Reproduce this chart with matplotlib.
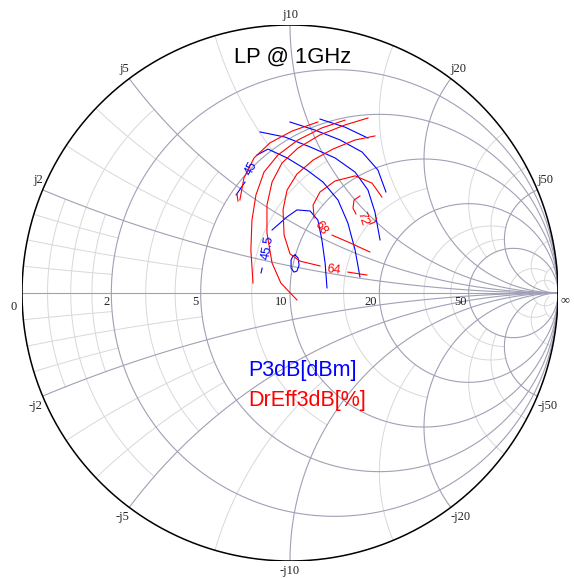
import numpy as np
import matplotlib
matplotlib.use("Agg")
import matplotlib.pyplot as plt

# ── chart geometry (pixels of the 574x578 picture) ──────────────
W, H = 574, 578
CX, CY, RAD = 290, 293, 268

# ── grid values, normalised to Z0 = 10 ohm ──────────────────────
major_vals = [0.2, 0.5, 1.0, 2.0, 5.0]
minor_vals = [0.05, 0.1, 0.15, 0.3, 0.4, 0.75, 1.5, 3.0, 4.0, 10.0, 20.0]
minor_lims = [0.2, 0.5, 0.2, 0.5, 0.5, 1.0, 2.0, 5.0, 5.0, 20.0, 50.0]
real_labels = ["2", "5", "10", "20", "50"]
imag_labels = ["j2", "j5", "j10", "j20", "j50"]

nan = np.nan

# ── P3dB contours [dBm], reflection coefficient (re, im) ────────
p3db_re = [
    [0.019, 0.030, 0.034, 0.026, 0.015, 0.004, 0.004, 0.011, 0.019],          # 46
    [-0.108, -0.104, nan, -0.067, -0.011, 0.026, 0.075, 0.104, 0.119,
     0.131, 0.138],                                                           # 45.5
    [-0.201, -0.168, nan, -0.123, -0.082, -0.011, 0.063, 0.123, 0.179,
     0.216, 0.243, 0.261],                                                    # 45
    [-0.112, -0.019, 0.075, 0.168, 0.243, 0.291, 0.317, 0.336],               # 44.5
    [0.000, 0.093, 0.187, 0.269, 0.328, 0.358],                               # 44
    [0.112, 0.205, 0.291],                                                    # 43.5
]
p3db_im = [
    [0.142, 0.131, 0.104, 0.082, 0.078, 0.093, 0.123, 0.138, 0.142],
    [0.075, 0.093, nan, 0.235, 0.284, 0.310, 0.306, 0.272, 0.198,
     0.112, 0.019],
    [0.366, 0.414, nan, 0.515, 0.537, 0.504, 0.459, 0.414, 0.347,
     0.261, 0.160, 0.060],
    [0.601, 0.582, 0.545, 0.504, 0.451, 0.384, 0.302, 0.198],
    [0.638, 0.608, 0.571, 0.526, 0.459, 0.377],
    [0.649, 0.619, 0.578],
]
p3db_labels = ["45", "45.5"]
p3db_lab_re = [-0.146, -0.082]
p3db_lab_im = [0.463, 0.168]
p3db_lab_rot = [62, 80]

# ── DrEff3dB contours [%] ───────────────────────────────────────
eff_re = [
    [0.261, 0.239, 0.235, 0.246, nan, 0.298, 0.317, 0.324],                   # 72
    [0.298, 0.224, 0.157, nan, 0.090, 0.086, 0.112, 0.168, 0.243, 0.306,
     0.343],                                                                  # 68
    [0.287, 0.216, nan, 0.112, 0.037, 0.000, -0.022, -0.026, -0.011, 0.026,
     0.086, 0.160, 0.243, 0.317],                                             # 64
    [0.026, -0.034, -0.067, -0.086, -0.086, -0.067, -0.030, 0.030, 0.112,
     0.205, 0.291],                                                           # 60
    [-0.138, -0.146, -0.142, -0.127, -0.097, -0.045, 0.030, 0.119, 0.205],    # 56
    [-0.187, -0.172, -0.134, -0.075, 0.007, 0.104],                           # 52
    [-0.198, -0.194],                                                         # 48
]
eff_im = [
    [0.362, 0.347, 0.317, 0.295, nan, 0.257, 0.265, 0.280],
    [0.153, 0.187, 0.216, nan, 0.280, 0.328, 0.377, 0.418, 0.437, 0.410,
     0.358],
    [0.067, 0.078, nan, 0.101, 0.119, 0.146, 0.216, 0.310, 0.384, 0.444,
     0.496, 0.537, 0.571, 0.586],
    [-0.026, 0.037, 0.112, 0.224, 0.328, 0.414, 0.485, 0.541, 0.590,
     0.627, 0.653],
    [0.037, 0.160, 0.272, 0.366, 0.451, 0.515, 0.571, 0.616, 0.645],
    [0.347, 0.429, 0.504, 0.560, 0.604, 0.638],
    [0.369, 0.343],
]
eff_labels = ["72", "68", "64"]
eff_lab_re = [0.269, 0.116, 0.164]
eff_lab_im = [0.276, 0.243, 0.086]
eff_lab_rot = [-72, -55, -8]


def gamma(z):
    return (z - 1) / (z + 1)


def r_curve(r, lim):
    t = np.linspace(-np.arctan(lim), np.arctan(lim), 400)
    g = gamma(r + 1j * np.tan(t))
    return g.real, g.imag


def x_curve(x, lim):
    t = np.linspace(0, np.arctan(lim), 400)
    g = gamma(np.tan(t) + 1j * x)
    return g.real, g.imag


fig = plt.figure(figsize=(W / 100, H / 100), dpi=100)
ax = fig.add_axes([(CX - RAD) / W, (H - CY - RAD) / H, 2 * RAD / W, 2 * RAD / H])
ax.set_xlim(-1, 1)
ax.set_ylim(-1, 1)
ax.axis("off")

minor_c, major_c = "#d8d8d8", "#a0a0b6"

# ── Smith grid ────────────────────────────────────────────────────
for v, lim in zip(minor_vals, minor_lims):
    gx, gy = r_curve(v, lim)
    ax.plot(gx, gy, color=minor_c, lw=0.7, zorder=1)
    for s in (1, -1):
        gx, gy = x_curve(s * v, lim)
        ax.plot(gx, gy, color=minor_c, lw=0.7, zorder=1)

for v in major_vals:
    gx, gy = r_curve(v, 1e6)
    ax.plot(gx, gy, color=major_c, lw=0.8, zorder=2)
    for s in (1, -1):
        gx, gy = x_curve(s * v, 1e6)
        ax.plot(gx, gy, color=major_c, lw=0.8, zorder=2)
ax.plot([-1, 1], [0, 0], color=major_c, lw=0.8, zorder=2)

t = np.linspace(0, 2 * np.pi, 600)
ax.plot(np.cos(t), np.sin(t), color="black", lw=1.1, zorder=3)

# axis labels
lab = dict(family="Liberation Serif", fontsize=9, color="#222222")
for v, s in zip(major_vals, real_labels):
    ax.text(gamma(v) - 0.008, -0.012, s, ha="right", va="top", **lab)
ax.text(-1.02, -0.03, "0", ha="right", va="top", **lab)
ax.text(1.01, -0.005, "∞", ha="left", va="top", **lab)
for v, s in zip(major_vals, imag_labels):
    g = gamma(1j * v)
    for sg, pre in ((1, ""), (-1, "-")):
        gx, gy = g.real, sg * g.imag
        if abs(gx) < 0.05:
            ha = "center"
        else:
            ha = "right" if gx < 0 else "left"
        va = "bottom" if sg > 0 else "top"
        ax.text(gx, gy + sg * 0.015, pre + s, ha=ha, va=va, **lab)

# ── load-pull contours ────────────────────────────────────────────
sans = "Liberation Sans"
for xr, yi in zip(p3db_re, p3db_im):
    ax.plot(xr, yi, color="blue", lw=0.8, zorder=4)
for xr, yi in zip(eff_re, eff_im):
    ax.plot(xr, yi, color="red", lw=0.8, zorder=4)
for s, gx, gy, rot in zip(p3db_labels, p3db_lab_re, p3db_lab_im, p3db_lab_rot):
    ax.text(gx, gy, s, color="blue", family=sans, fontsize=9, rotation=rot,
            ha="center", va="center", rotation_mode="anchor", zorder=5)
for s, gx, gy, rot in zip(eff_labels, eff_lab_re, eff_lab_im, eff_lab_rot):
    ax.text(gx, gy, s, color="red", family=sans, fontsize=9, rotation=rot,
            ha="center", va="center", rotation_mode="anchor", zorder=5)

ax.text(0.011, 0.88, "LP @ 1GHz", ha="center", va="center", family=sans,
        fontsize=15.8, color="black")
ax.text(-0.157, -0.29, "P3dB[dBm]", ha="left", va="center", family=sans,
        fontsize=15.5, color="blue")
ax.text(-0.157, -0.40, "DrEff3dB[%]", ha="left", va="center", family=sans,
        fontsize=15.5, color="red")

fig.savefig("out.png", dpi=100)
